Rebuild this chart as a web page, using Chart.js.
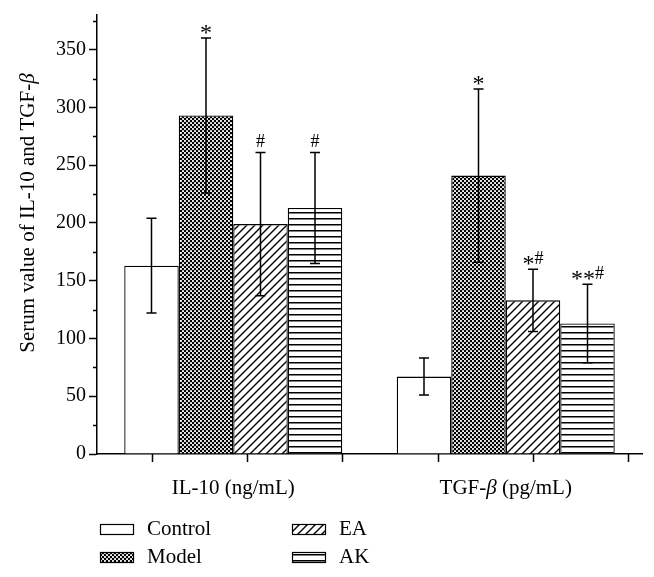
<!DOCTYPE html>
<html>
<head>
<meta charset="utf-8">
<script src="https://cdn.jsdelivr.net/npm/chart.js@4.4.1/dist/chart.umd.min.js"></script>
<style>
  html, body { margin: 0; padding: 0; background: #fff; }
  #wrap { width: 654px; height: 577px; }
</style>
</head>
<body>
<div id="wrap"><canvas id="chart"></canvas></div>
<script>
// data
const categories = ['IL-10 (ng/mL)', 'TGF-β (pg/mL)'];
const groups = ['Control', 'Model', 'EA', 'AK'];
const controlMean = [163, 67];
const modelMean = [293, 241];
const eaMean = [199, 133];
const akMean = [213, 113];
const controlSD = [41, 16];
const modelSD = [67, 75];
const eaSD = [62, 27];
const akSD = [48, 34];
const controlMark = ['', ''];
const modelMark = ['*', '*'];
const eaMark = ['#', '*#'];
const akMark = ['#', '**#'];
const yTicks = [0, 50, 100, 150, 200, 250, 300, 350];
const yMinorTicks = [25, 75, 125, 175, 225, 275, 325, 375];
const yMax = 380;
const xTickPos = [-0.3, 0.05, 0.4, 0.75, 1.1, 1.45];
const yTitle = 'Serum value of IL-10 and TGF-β';

const FONT = 'Liberation Serif';

// fill patterns
function makePattern(kind) {
  const c = document.createElement('canvas');
  const g = c.getContext('2d');
  if (kind === 'blank') {
    return '#ffffff';
  }
  if (kind === 'dots') {
    c.width = 4; c.height = 4;
    g.fillStyle = '#000';
    g.fillRect(0, 0, 4, 4);
    g.fillStyle = '#fff';
    g.beginPath(); g.arc(1, 1, 1.05, 0, Math.PI * 2); g.fill();
    g.beginPath(); g.arc(3, 3, 1.05, 0, Math.PI * 2); g.fill();
  } else if (kind === 'diag') {
    c.width = 8; c.height = 8;
    g.fillStyle = '#fff';
    g.fillRect(0, 0, 8, 8);
    g.strokeStyle = '#000';
    g.lineWidth = 1.4;
    g.beginPath();
    g.moveTo(-1, 9); g.lineTo(9, -1);
    g.moveTo(-1, 1); g.lineTo(1, -1);
    g.moveTo(7, 9); g.lineTo(9, 7);
    g.stroke();
  } else if (kind === 'horiz') {
    c.width = 4; c.height = 6;
    g.fillStyle = '#fff';
    g.fillRect(0, 0, 4, 6);
    g.fillStyle = '#000';
    g.fillRect(0, 2, 4, 1.5);
  }
  return g.createPattern(c, 'repeat');
}

const fills = [makePattern('blank'), makePattern('dots'), makePattern('diag'), makePattern('horiz')];
const means = [controlMean, modelMean, eaMean, akMean];
const sds = [controlSD, modelSD, eaSD, akSD];
const marks = [controlMark, modelMark, eaMark, akMark];

// text with italic beta
function drawMixed(ctx, text, cx, cy, size) {
  const parts = text.split(/(β)/).filter(p => p.length);
  const fontFor = p => (p === 'β' ? 'italic ' : '') + size + 'px "' + FONT + '"';
  let total = 0;
  parts.forEach(p => { ctx.font = fontFor(p); total += ctx.measureText(p).width; });
  let x = cx - total / 2;
  ctx.textAlign = 'left';
  ctx.textBaseline = 'middle';
  parts.forEach(p => {
    ctx.font = fontFor(p);
    ctx.fillText(p, x, cy);
    x += ctx.measureText(p).width;
  });
}

const errorBars = {
  id: 'errorBars',
  afterDatasetsDraw(chart) {
    const ctx = chart.ctx;
    const ys = chart.scales.y;
    ctx.save();
    ctx.strokeStyle = '#000';
    ctx.fillStyle = '#000';
    ctx.lineWidth = 1.5;
    chart.data.datasets.forEach((ds, i) => {
      const meta = chart.getDatasetMeta(i);
      meta.data.forEach((bar, j) => {
        const m = means[i][j], s = sds[i][j];
        const yt = ys.getPixelForValue(m + s);
        const yb = ys.getPixelForValue(m - s);
        const x = bar.x;
        ctx.beginPath();
        ctx.moveTo(x, yt); ctx.lineTo(x, yb);
        ctx.moveTo(x - 5, yt); ctx.lineTo(x + 5, yt);
        ctx.moveTo(x - 5, yb); ctx.lineTo(x + 5, yb);
        ctx.stroke();
        // significance marks
        const txt = marks[i][j];
        if (txt) {
          const fontFor = ch => (ch === '*' ? 24 : 18) + 'px "' + FONT + '"';
          ctx.textBaseline = 'alphabetic';
          ctx.textAlign = 'left';
          let w = 0;
          for (const ch of txt) { ctx.font = fontFor(ch); w += ctx.measureText(ch).width; }
          let cx = x - w / 2;
          for (const ch of txt) {
            ctx.font = fontFor(ch);
            const dy = ch === '*' ? 7 : 0;
            ctx.fillText(ch, cx, yt - 5 + dy);
            cx += ctx.measureText(ch).width;
          }
        }
      });
    });
    ctx.restore();
  }
};

const decor = {
  id: 'decor',
  afterDraw(chart) {
    const ctx = chart.ctx;
    const xs = chart.scales.x, ys = chart.scales.y;
    const area = chart.chartArea;
    ctx.save();
    ctx.strokeStyle = '#000';
    ctx.fillStyle = '#000';
    ctx.lineWidth = 1.5;
    // minor y ticks
    ctx.beginPath();
    yMinorTicks.forEach(v => {
      const y = Math.round(ys.getPixelForValue(v)) + 0.5;
      ctx.moveTo(area.left - 4, y); ctx.lineTo(area.left, y);
    });
    // x ticks
    xTickPos.forEach(v => {
      const x = Math.round(xs.getPixelForValue(v)) + 0.5;
      ctx.moveTo(x, area.bottom); ctx.lineTo(x, area.bottom + 8);
    });
    ctx.stroke();

    // category labels
    categories.forEach((c, i) => {
      drawMixed(ctx, c, xs.getPixelForValue(i), area.bottom + 34, 21);
    });

    // y title
    ctx.save();
    ctx.translate(28, 213);
    ctx.rotate(-Math.PI / 2);
    drawMixed(ctx, yTitle, 0, 0, 21);
    ctx.restore();

    // legend in two columns
    const colX = [100, 292], rowY = [529, 557];
    groups.forEach((g, i) => {
      const x = colX[Math.floor(i / 2)], y = rowY[i % 2];
      ctx.fillStyle = fills[i];
      ctx.fillRect(x, y - 5, 33, 10);
      ctx.lineWidth = 1.2;
      ctx.strokeRect(x + 0.5, y - 5 + 0.5, 33, 10);
      ctx.fillStyle = '#000';
      ctx.font = '21px "' + FONT + '"';
      ctx.textAlign = 'left';
      ctx.textBaseline = 'middle';
      ctx.fillText(g, x + 47, y);
    });
    ctx.restore();
  }
};

new Chart(document.getElementById('chart'), {
  type: 'bar',
  data: {
    labels: categories,
    datasets: groups.map((g, i) => ({
      label: g,
      data: means[i],
      backgroundColor: fills[i],
      borderColor: '#000',
      borderWidth: 1.3,
      categoryPercentage: 0.8,
      barPercentage: 1.0,
    })),
  },
  options: {
    responsive: true,
    maintainAspectRatio: false,
    animation: false,
    layout: { padding: { left: 0, right: 12, top: 15, bottom: 0 } },
    plugins: {
      legend: { display: false },
      tooltip: { enabled: false },
    },
    scales: {
      x: {
        offset: true,
        grid: { display: false },
        border: { display: true, color: '#000', width: 1.5 },
        ticks: { display: false },
        afterFit: s => { s.height = 123; },
      },
      y: {
        min: 0,
        max: yMax,
        afterBuildTicks: s => { s.ticks = yTicks.map(v => ({ value: v })); },
        ticks: {
          color: '#000',
          padding: 3,
          font: { family: FONT, size: 20 },
        },
        grid: { drawOnChartArea: false, tickLength: 8, tickColor: '#000', tickWidth: 1.5 },
        border: { color: '#000', width: 1.5 },
        afterFit: s => { s.width = 97; },
      },
    },
  },
  plugins: [errorBars, decor],
});
</script>
</body>
</html>
